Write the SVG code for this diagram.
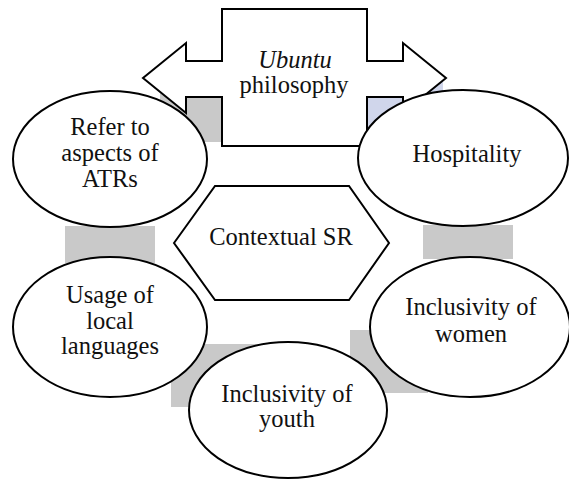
<svg xmlns="http://www.w3.org/2000/svg" width="569" height="480" viewBox="0 0 569 480">
  <style>
    .link { fill: #c9c9c9; stroke: none; }
    .link-blue { fill: #d0d6eb; stroke: none; }
    .shape { fill: #ffffff; stroke: #000000; stroke-width: 2; stroke-linejoin: miter; }
    .label { font-family: 'Liberation Serif', 'Times New Roman', serif; font-size: 24.5px; fill: #111111; text-anchor: middle; }
    .em { font-style: italic; }
  </style>
  <rect width="569" height="480" fill="#ffffff"/>

  <!-- connectors: shaded bands joining neighbouring shapes -->
  <g id="connectors">
    <rect class="link" x="160" y="92" width="62" height="50"/>
    <rect class="link-blue" x="367" y="82" width="76" height="58"/>
    <rect class="link" x="65" y="226" width="90" height="37"/>
    <rect class="link" x="423" y="225" width="90" height="34"/>
    <rect class="link" x="350" y="330" width="78" height="63"/>
    <rect class="link" x="171" y="344" width="89" height="63"/>
  </g>

  <!-- double-headed arrow box at the top -->
  <g id="ubuntu">
    <path class="shape" d="M222,9 H367 V61 H403 V43 L446,78 L403,113 V97 H367 V146 H222 V97 H186 V113 L143,78 L186,43 V61 H222 Z"/>
    <text class="label em" x="295" y="68">Ubuntu</text>
    <text class="label" x="294" y="93">philosophy</text>
  </g>

  <g id="atrs">
    <ellipse class="shape" cx="110" cy="159" rx="97" ry="68"/>
    <text class="label" x="110" y="135">Refer to</text>
    <text class="label" x="110" y="161">aspects of</text>
    <text class="label" x="110" y="187">ATRs</text>
  </g>

  <g id="hospitality">
    <ellipse class="shape" cx="463" cy="158" rx="105" ry="68"/>
    <text class="label" x="467" y="162">Hospitality</text>
  </g>

  <g id="contextual-sr">
    <path class="shape" d="M174,243 L215,186 L349,186 L389,243 L349,300 L215,300 Z"/>
    <text class="label" x="281" y="245">Contextual SR</text>
  </g>

  <g id="women">
    <ellipse class="shape" cx="470" cy="327" rx="100" ry="70"/>
    <text class="label" x="471" y="315">Inclusivity of</text>
    <text class="label" x="471" y="342">women</text>
  </g>

  <g id="languages">
    <ellipse class="shape" cx="110" cy="327" rx="97" ry="70"/>
    <text class="label" x="110" y="303">Usage of</text>
    <text class="label" x="110" y="329">local</text>
    <text class="label" x="110" y="354">languages</text>
  </g>

  <g id="youth">
    <ellipse class="shape" cx="288" cy="410" rx="99" ry="68"/>
    <text class="label" x="287" y="402">Inclusivity of</text>
    <text class="label" x="287" y="427">youth</text>
  </g>
</svg>
